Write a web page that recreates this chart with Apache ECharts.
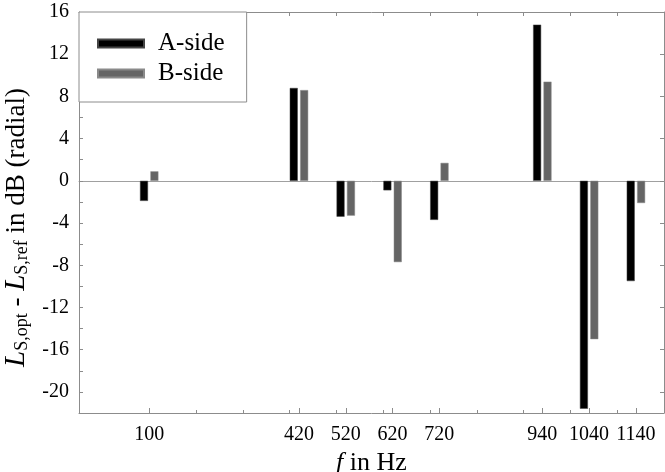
<!DOCTYPE html>
<html>
<head>
<meta charset="utf-8">
<script src="https://cdn.jsdelivr.net/npm/echarts@6/dist/echarts.min.js"></script>
<style>
  html, body { margin: 0; padding: 0; background: #fff; }
  #chart { width: 665px; height: 472px; }
</style>
</head>
<body>
<div id="chart"></div>
<script>
// frequencies in Hz and level differences in dB
const freqs = [100, 420, 520, 620, 720, 940, 1040, 1140]
const aSide = [-1.9, 8.8, -3.4, -0.9, -3.7, 14.8, -21.6, -9.5]
const bSide = [0.9, 8.6, -3.3, -7.7, 1.7, 9.4, -15.0, -2.1]

const hundredTicks = [100, 200, 300, 400, 500, 600, 700, 800, 900, 1000, 1100]
const yLabels = [-20, -16, -12, -8, -4, 0, 4, 8, 12, 16]
const yTicks = [-20, -18, -16, -14, -12, -10, -8, -6, -4, -2, 0, 2, 4, 6, 8, 10, 12, 14, 16]

const font = '"Liberation Serif", "Times New Roman", Times, serif'
const axisGray = '#8c8c8c'

const chart = echarts.init(document.getElementById('chart'))

const hiddenX = {
  type: 'value',
  min: -50,
  max: 1200,
  splitLine: { show: false },
  axisLabel: { show: false },
  axisTick: { show: false },
  axisLine: { show: false }
}

chart.setOption({
  animation: false,
  textStyle: { fontFamily: font },
  grid: { left: 79, right: 1, top: 12, bottom: 59, containLabel: false, outerBoundsMode: 'none' },
  legend: {
    orient: 'vertical',
    left: 79,
    top: 12,
    padding: [19, 22, 16, 18],
    itemGap: 5,
    itemWidth: 46,
    itemHeight: 8,
    icon: 'rect',
    backgroundColor: '#fff',
    borderColor: axisGray,
    borderWidth: 1,
    textStyle: { fontFamily: font, fontSize: 25, color: '#000', padding: [0, 0, 0, 9] },
    data: ['A-side', 'B-side']
  },
  xAxis: [
    {
      ...hiddenX,
      position: 'bottom',
      name: '{i|f} in Hz',
      nameLocation: 'middle',
      nameGap: 30,
      nameTextStyle: {
        fontFamily: font, fontSize: 26, color: '#000',
        rich: { i: { fontFamily: font, fontSize: 26, fontStyle: 'italic', color: '#000' } }
      },
      axisLine: { show: true, onZero: false, lineStyle: { color: axisGray, width: 1 } },
      axisTick: { show: true, inside: true, length: 5, customValues: freqs, lineStyle: { color: axisGray } },
      axisLabel: {
        show: true, customValues: freqs, fontFamily: font, fontSize: 20, color: '#000', margin: 12,
        formatter: v => String(v)
      }
    },
    {
      ...hiddenX,
      position: 'bottom',
      axisLine: { show: false, onZero: false },
      axisTick: { show: true, inside: true, length: 3, customValues: hundredTicks, lineStyle: { color: axisGray } }
    },
    {
      ...hiddenX,
      position: 'top',
      axisLine: { show: true, onZero: false, lineStyle: { color: axisGray, width: 1 } },
      axisTick: { show: true, inside: true, length: 4, customValues: hundredTicks, lineStyle: { color: axisGray } }
    },
    {
      ...hiddenX,
      position: 'bottom',
      axisLine: { show: true, onZero: true, onZeroAxisIndex: 0, lineStyle: { color: '#a0a0a0', width: 1 } }
    }
  ],
  yAxis: [
    {
      type: 'value',
      min: -22,
      max: 16,
      position: 'left',
      splitLine: { show: false },
      name: '{i|L}{sub|S,opt} - {i|L}{sub|S,ref} in dB (radial)',
      nameLocation: 'middle',
      nameRotate: 90,
      nameGap: 42,
      nameTextStyle: {
        fontFamily: font, fontSize: 27, color: '#000', padding: [0, 30, 0, 0],
        rich: {
          i: { fontFamily: font, fontSize: 29, fontStyle: 'italic', color: '#000' },
          sub: { fontFamily: font, fontSize: 18, color: '#000', padding: [12, 0, 0, 0] }
        }
      },
      axisLine: { show: true, onZero: false, lineStyle: { color: axisGray, width: 1 } },
      axisTick: { show: true, inside: true, length: 4, customValues: yTicks, lineStyle: { color: axisGray } },
      axisLabel: { customValues: yLabels, fontFamily: font, fontSize: 20, color: '#000', margin: 10 }
    },
    {
      type: 'value',
      min: -22,
      max: 16,
      position: 'right',
      splitLine: { show: false },
      axisLine: { show: true, onZero: false, lineStyle: { color: axisGray, width: 1 } },
      axisTick: { show: true, inside: true, length: 4, customValues: yLabels, lineStyle: { color: axisGray } },
      axisLabel: { show: false }
    }
  ],
  series: [
    {
      name: 'A-side',
      type: 'bar',
      xAxisIndex: 0,
      yAxisIndex: 0,
      barWidth: 8,
      barGap: '30%',
      itemStyle: { color: '#000', borderColor: '#444', borderWidth: 0.5 },
      data: freqs.map((f, i) => [f, aSide[i]])
    },
    {
      name: 'B-side',
      type: 'bar',
      xAxisIndex: 0,
      yAxisIndex: 0,
      barWidth: 8,
      barGap: '30%',
      itemStyle: { color: '#656565', borderColor: '#8a8a8a', borderWidth: 0.5 },
      data: freqs.map((f, i) => [f, bSide[i]])
    }
  ]
})
</script>
</body>
</html>
